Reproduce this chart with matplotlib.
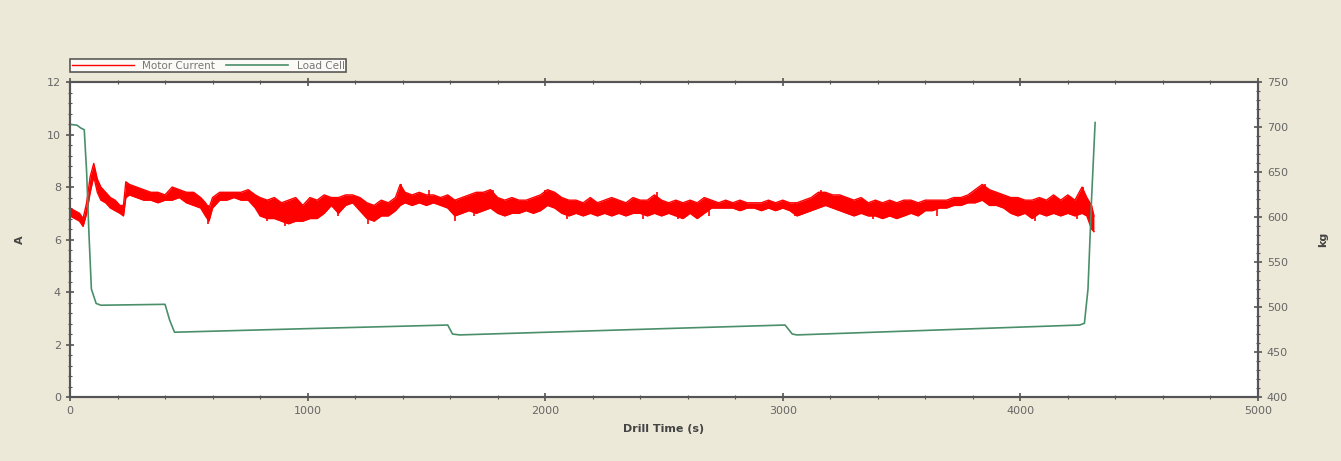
import matplotlib
matplotlib.use("Agg")
import matplotlib.pyplot as plt
from matplotlib.ticker import MultipleLocator

# motor current (A): band, time in s, low / high edge of the noisy trace
mc_time = [0, 20, 40, 55, 70, 85, 100, 115, 130, 150, 170, 190, 210, 225, 235, 250, 280, 310, 340, 370,
           400, 430, 460, 490, 520, 550, 570, 585, 600, 630, 660, 690, 720, 750, 780, 800, 830, 860, 890, 920,
           950, 980, 1010, 1040, 1070, 1100, 1130, 1160, 1190, 1220, 1250, 1280, 1310, 1340, 1370, 1390, 1410,
           1440, 1470, 1500, 1530, 1560, 1590, 1620, 1650, 1680, 1710, 1740, 1770, 1800, 1830, 1860, 1890,
           1920, 1950, 1980, 2010, 2040, 2070, 2100, 2130, 2160, 2190, 2220, 2250, 2280, 2310, 2340, 2370,
           2400, 2430, 2460, 2490, 2520, 2550, 2580, 2610, 2640, 2670, 2700, 2730, 2760, 2790, 2820, 2850,
           2880, 2910, 2940, 2970, 3000, 3030, 3060, 3090, 3120, 3150, 3180, 3210, 3240, 3270, 3300, 3330,
           3360, 3390, 3420, 3450, 3480, 3510, 3540, 3570, 3600, 3630, 3660, 3690, 3720, 3750, 3780, 3810,
           3840, 3870, 3900, 3930, 3960, 3990, 4020, 4050, 4080, 4110, 4140, 4170, 4200, 4230, 4260, 4280,
           4300, 4310]
mc_low = [6.9, 6.8, 6.7, 6.5, 7.0, 7.8, 8.4, 7.8, 7.5, 7.4, 7.2, 7.1, 7.0, 6.9, 7.6, 7.7, 7.6, 7.5, 7.5, 7.4,
          7.5, 7.5, 7.6, 7.4, 7.3, 7.2, 6.9, 6.7, 7.2, 7.5, 7.5, 7.6, 7.5, 7.5, 7.2, 6.9, 6.8, 6.8, 6.7, 6.6,
          6.7, 6.7, 6.8, 6.8, 7.0, 7.3, 7.0, 7.3, 7.4, 7.1, 6.8, 6.7, 6.9, 6.9, 7.1, 7.3, 7.4,
          7.3, 7.4, 7.3, 7.4, 7.3, 7.2, 6.9, 7.0, 7.1, 7.0, 7.1, 7.2, 7.0, 6.9, 7.0, 7.0,
          7.1, 7.0, 7.1, 7.3, 7.2, 7.0, 6.9, 7.0, 6.9, 7.0, 6.9, 7.0, 6.9, 7.0, 6.9, 7.0,
          7.0, 6.9, 7.0, 6.9, 7.0, 6.9, 6.8, 7.0, 6.8, 7.0, 7.2, 7.2, 7.2, 7.2, 7.1, 7.2,
          7.2, 7.1, 7.2, 7.1, 7.2, 7.1, 6.9, 7.0, 7.1, 7.2, 7.3, 7.2, 7.1, 7.0, 6.9, 7.0,
          6.9, 6.9, 6.8, 6.9, 6.8, 6.9, 7.0, 6.9, 7.1, 7.1, 7.2, 7.2, 7.3, 7.3, 7.4, 7.4,
          7.5, 7.3, 7.3, 7.2, 7.0, 6.9, 7.0, 6.8, 7.0, 6.9, 7.0, 6.9, 7.0, 6.9, 7.0, 6.9,
          6.4, 6.3]
mc_high = [7.2, 7.1, 7.0, 6.8, 7.4, 8.4, 8.9, 8.3, 8.0, 7.8, 7.6, 7.5, 7.3, 7.3, 8.2, 8.1, 8.0, 7.9, 7.8, 7.8,
           7.7, 8.0, 7.9, 7.8, 7.8, 7.6, 7.4, 7.2, 7.6, 7.8, 7.8, 7.8, 7.8, 7.9, 7.7, 7.6, 7.5, 7.6, 7.4, 7.5,
           7.6, 7.3, 7.6, 7.5, 7.7, 7.6, 7.6, 7.7, 7.7, 7.6, 7.4, 7.3, 7.5, 7.4, 7.6, 8.1, 7.8,
           7.7, 7.8, 7.7, 7.7, 7.6, 7.7, 7.5, 7.6, 7.7, 7.8, 7.8, 7.9, 7.6, 7.5, 7.6, 7.5,
           7.5, 7.6, 7.7, 7.9, 7.8, 7.6, 7.5, 7.5, 7.4, 7.6, 7.4, 7.5, 7.6, 7.5, 7.4, 7.6,
           7.5, 7.5, 7.7, 7.5, 7.4, 7.5, 7.4, 7.5, 7.4, 7.6, 7.5, 7.4, 7.5, 7.4, 7.5, 7.4,
           7.4, 7.4, 7.5, 7.4, 7.5, 7.4, 7.4, 7.5, 7.6, 7.8, 7.8, 7.7, 7.7, 7.6, 7.5, 7.6,
           7.4, 7.5, 7.4, 7.5, 7.4, 7.5, 7.5, 7.4, 7.5, 7.5, 7.5, 7.5, 7.6, 7.6, 7.7, 7.9,
           8.1, 7.9, 7.8, 7.7, 7.6, 7.6, 7.5, 7.5, 7.6, 7.5, 7.7, 7.5, 7.7, 7.5, 8.0, 7.6,
           7.3, 6.9]

# single spikes of the motor current trace (time, bottom, top)
spike_time = [580, 830, 905, 1130, 1255, 1395, 1510, 1620, 1700, 1780, 2000, 2090, 2410, 2470,
              2560, 2690, 3050, 3160, 3380, 3650, 3850, 4060, 4240, 4265]
spike_bot = [6.6, 6.7, 6.5, 6.9, 6.6, 7.4, 7.4, 6.7, 6.9, 7.3, 7.3, 6.8, 6.8, 7.2,
             6.8, 6.9, 6.9, 7.3, 6.8, 6.9, 7.5, 6.7, 6.8, 7.2]
spike_top = [7.3, 7.5, 7.3, 7.5, 7.3, 8.1, 7.9, 7.5, 7.5, 7.9, 7.9, 7.4, 7.4, 7.8,
             7.4, 7.4, 7.4, 7.9, 7.4, 7.4, 8.1, 7.4, 7.5, 8.0]

# load cell (kg)
lc_time = [0, 30, 45, 60, 70, 80, 90, 100, 110, 130, 400, 420, 440, 1000, 1590, 1610, 1640,
           2500, 3010, 3040, 3060, 4250, 4270, 4285, 4300, 4315]
lc_kg = [703, 702, 699, 697, 650, 580, 520, 512, 504, 502, 503, 485, 472, 476, 480, 470, 469,
         476, 480, 470, 469, 480, 482, 520, 620, 705]

bg = "#ece9d8"
red = "#ff0000"
green = "#4a8f6a"
grey = "#555555"

fig = plt.figure(figsize=(13.41, 4.61), dpi=100, facecolor=bg)
ax = fig.add_axes([0.0522, 0.1388, 0.8858, 0.6832])
ax.set_facecolor("white")
ax2 = ax.twinx()

ax.fill_between(mc_time, mc_low, mc_high, color=red, linewidth=0, zorder=3)
ax.plot(mc_time, mc_low, color=red, lw=1.0, zorder=3)
ax.vlines(spike_time, spike_bot, spike_top, color=red, lw=1.2, zorder=3)
line_mc, = ax.plot(mc_time, mc_high, color=red, lw=1.0, zorder=3, label="Motor Current")
line_lc, = ax2.plot(lc_time, lc_kg, color=green, lw=1.2, label="Load Cell")

ax.set_xlim(0, 5000)
ax.set_ylim(0, 12)
ax2.set_ylim(400, 750)

ax.xaxis.set_major_locator(MultipleLocator(1000))
ax.xaxis.set_minor_locator(MultipleLocator(200))
ax.yaxis.set_major_locator(MultipleLocator(2))
ax.yaxis.set_minor_locator(MultipleLocator(0.4))
ax2.yaxis.set_major_locator(MultipleLocator(50))
ax2.yaxis.set_minor_locator(MultipleLocator(10))

for a in (ax, ax2):
    for s in a.spines.values():
        s.set_color(grey)
        s.set_linewidth(1.5)
    a.tick_params(which="major", direction="inout", length=6, width=1.2, color=grey,
                  labelcolor="#666666", labelsize=8)
    a.tick_params(which="minor", direction="inout", length=3, width=0.8, color=grey)
ax.tick_params(axis="x", which="both", top=True)

ax.set_xlabel("Drill Time (s)", fontsize=8, fontweight="bold", color="#444444", labelpad=6)
ax.set_ylabel("A", fontsize=8, fontweight="bold", color="#444444", labelpad=16)
ax2.set_ylabel("kg", fontsize=8, fontweight="bold", color="#444444", labelpad=22)

leg = fig.legend(handles=[line_mc, line_lc], loc="lower left", bbox_to_anchor=(0.0522, 0.843),
                 ncol=2, fontsize=7.5, frameon=True, fancybox=False, borderpad=0.15,
                 borderaxespad=0, handlelength=6, handletextpad=0.8, columnspacing=1.0,
                 labelcolor="#777777")
leg.get_frame().set_edgecolor("#333333")
leg.get_frame().set_linewidth(1.2)

plt.savefig("out.png", dpi=100, facecolor=bg)
